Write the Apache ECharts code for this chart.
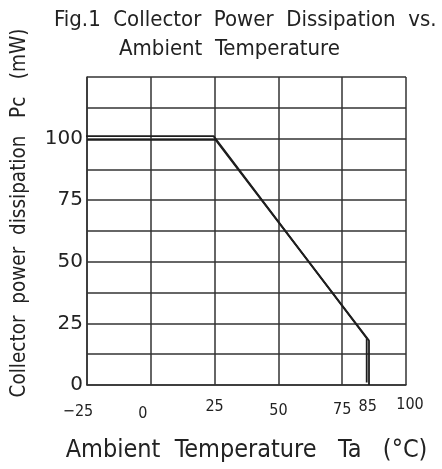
<!DOCTYPE html>
<html>
<head>
<meta charset="utf-8">
<script src="https://cdn.jsdelivr.net/npm/echarts@6/dist/echarts.min.js"></script>
<style>
  html, body { margin: 0; padding: 0; background: #fff; }
  #chart { width: 442px; height: 469px; }
</style>
</head>
<body>
<div id="chart"></div>
<script>
// Derating curve of collector power dissipation vs ambient temperature.
// The curve is drawn as a doubled trace, as in the datasheet plot.
const traceA = [[-25.5, 101], [24.6, 101], [84.6, 19], [84.6, 1]];
const traceB = [[-25, 99.5], [25.4, 99.5], [85.5, 18], [85.5, 0]];

const xTickLabels = [-25, 0, 25, 50, 75, 85, 100];
const yTickLabels = [0, 25, 50, 75, 100];

const FONT = '"DejaVu Sans Condensed", "DejaVu Sans", sans-serif';
const FONT_WIDE = '"DejaVu Sans", sans-serif';
const INK = '#222';

// Hand-lettered tick labels sit slightly off their ticks; per-label nudges,
// in the same order as xTickLabels: [top, right, bottom, left].
const xLabelPadding = [
  [7, 18, 0, 0],
  [9, 16, 0, 0],
  [2, 0, 0, 0],
  [6, 0, 0, 0],
  [5, 0, 0, 0],
  [2, 0, 0, 0],
  [0, 0, 0, 8]
];
const rich = {};
xLabelPadding.forEach((p, i) => {
  rich['t' + i] = { fontFamily: FONT, fontSize: 16, color: INK, padding: p };
});

const chart = echarts.init(document.getElementById('chart'), null, { renderer: 'canvas' });

chart.setOption({
  animation: false,
  backgroundColor: '#fff',
  title: [
    { text: 'Fig.1  Collector  Power  Dissipation  vs.', left: 49, top: 4,
      textStyle: { fontFamily: FONT, fontWeight: 'normal', fontSize: 22, color: INK } },
    { text: 'Ambient  Temperature', left: 114, top: 33,
      textStyle: { fontFamily: FONT, fontWeight: 'normal', fontSize: 22, color: INK } }
  ],
  graphic: [
    { type: 'text', x: 20, y: 213, rotation: Math.PI / 2,
      style: { text: 'Collector  power  dissipation   Pc   (mW)', fontFamily: FONT,
               fontSize: 20.5, fill: INK, align: 'center', verticalAlign: 'middle' } }
  ],
  grid: { left: 87, right: 36, top: 77, bottom: 84, containLabel: false },
  xAxis: [
    {
      type: 'value', min: -25, max: 100, interval: 25,
      name: 'Ambient  Temperature   Ta   (\u00B0C)',
      nameLocation: 'middle', nameGap: 53,
      nameTextStyle: { fontFamily: FONT, fontSize: 25, color: INK },
      axisLine: { show: true, onZero: false, lineStyle: { color: '#333', width: 1.5 } },
      axisTick: { show: false },
      axisLabel: { show: false },
      splitLine: { show: true, lineStyle: { color: '#333', width: 1.5 } }
    },
    {
      type: 'value', min: -25, max: 100, interval: 5, position: 'bottom',
      axisLine: { show: false }, axisTick: { show: false }, splitLine: { show: false },
      axisLabel: {
        show: true, margin: 12, fontFamily: FONT, fontSize: 16, color: INK, rich: rich,
        formatter: v => {
          const i = xTickLabels.indexOf(v);
          return i >= 0 ? '{t' + i + '|' + String(v).replace('-', '\u2212') + '}' : '';
        }
      }
    }
  ],
  yAxis: {
    type: 'value', min: 0, max: 125, interval: 12.5,
    axisLine: { show: true, onZero: false, lineStyle: { color: '#333', width: 1.5 } },
    axisTick: { show: false },
    axisLabel: {
      show: true, margin: 4, fontFamily: FONT_WIDE, fontSize: 20, color: INK,
      formatter: v => (yTickLabels.indexOf(v) >= 0 ? String(v) : '')
    },
    splitLine: { show: true, lineStyle: { color: '#333', width: 1.5 } }
  },
  series: [
    { type: 'line', data: traceA, symbol: 'none', silent: true, xAxisIndex: 0,
      lineStyle: { color: '#1e1e1e', width: 1.8 } },
    { type: 'line', data: traceB, symbol: 'none', silent: true, xAxisIndex: 0,
      lineStyle: { color: '#1e1e1e', width: 1.8 } }
  ]
});
</script>
</body>
</html>
